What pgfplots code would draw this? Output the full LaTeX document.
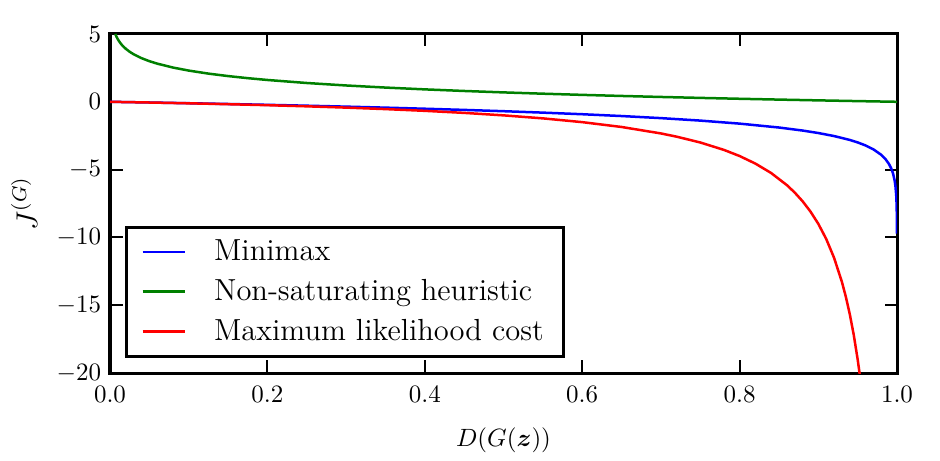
\documentclass[border=0pt]{standalone}
\usepackage{pgfplots}
\pgfplotsset{compat=1.18}
\usepackage{amsmath,amssymb}
\definecolor{mplb}{rgb}{0,0,1}
\definecolor{mplg}{rgb}{0,0.5,0}
\definecolor{mplr}{rgb}{1,0,0}
\begin{document}
\begin{tikzpicture}
\begin{axis}[
  scale only axis,
  width=314.8pt, height=135.6pt,
  xmin=0, xmax=1, ymin=-20, ymax=5,
  xtick={0,0.2,0.4,0.6,0.8,1.0},
  xticklabels={0.0,0.2,0.4,0.6,0.8,1.0},
  ytick={-20,-15,-10,-5,0,5},
  tick align=inside,
  tick pos=both,
  major tick length=5pt,
  tick style={black, line width=0.8pt},
  axis line style={line width=1.2pt},
  xticklabel style={yshift=-1.5pt},
  xlabel={$D(G(\boldsymbol{z}))$},
  ylabel={$J^{(G)}$},
  ylabel style={yshift=1pt, font=\large},
  xlabel style={yshift=-3pt},
  legend style={at={(0.019,0.044)}, anchor=south west, draw=black, line width=1.2pt, font=\fontsize{12.2}{14}\selectfont, inner xsep=6pt, inner ysep=3pt, row sep=2pt, cells={anchor=west},
    /tikz/every odd column/.append style={column sep=9pt}},
  legend image code/.code={\draw[#1, line width=1pt] plot coordinates {(0cm,0cm) (0.6cm,0cm)};},
  legend cell align=left,
  every axis plot/.append style={line width=1pt},
]
\addplot[mplb] coordinates {
(0,0) (0.05,-0.0513) (0.1,-0.1054) (0.15,-0.1625) (0.2,-0.2231) (0.25,-0.2877) (0.3,-0.3567) (0.35,-0.4308) (0.4,-0.5108) (0.45,-0.5978) (0.5,-0.6931) (0.55,-0.7985) (0.6,-0.9163) (0.65,-1.0498) (0.7,-1.2040) (0.75,-1.3863) (0.8,-1.6094) (0.85,-1.8971) (0.88,-2.1203) (0.9,-2.3026) (0.92,-2.5257) (0.94,-2.8134) (0.95,-2.9957) (0.96,-3.2189) (0.97,-3.5066) (0.98,-3.9120) (0.985,-4.1997) (0.99,-4.6052) (0.993,-4.9618) (0.995,-5.2983) (0.997,-5.8091) (0.998,-6.2146) (0.999,-6.9078) (0.9995,-7.6009) (0.9998,-8.5172) (0.9999,-9.2103) (0.99994,-9.7212)
};
\addlegendentry{Minimax}
\addplot[mplg] coordinates {
(0.00674,5.0) (0.008,4.8283) (0.01,4.6052) (0.0125,4.3820) (0.015,4.1997) (0.02,3.9120) (0.025,3.6889) (0.03,3.5066) (0.04,3.2189) (0.05,2.9957) (0.06,2.8134) (0.08,2.5257) (0.1,2.3026) (0.125,2.0794) (0.15,1.8971) (0.175,1.7430) (0.2,1.6094) (0.25,1.3863) (0.3,1.2040) (0.35,1.0498) (0.4,0.9163) (0.45,0.7985) (0.5,0.6931) (0.55,0.5978) (0.6,0.5108) (0.65,0.4308) (0.7,0.3567) (0.75,0.2877) (0.8,0.2231) (0.85,0.1625) (0.9,0.1054) (0.95,0.0513) (1.0,0)
};
\addlegendentry{Non-saturating heuristic}
\addplot[mplr] coordinates {
(0,0) (0.05,-0.0526) (0.1,-0.1111) (0.15,-0.1765) (0.2,-0.25) (0.25,-0.3333) (0.3,-0.4286) (0.35,-0.5385) (0.4,-0.6667) (0.45,-0.8182) (0.5,-1) (0.55,-1.2222) (0.6,-1.5) (0.65,-1.8571) (0.7,-2.3333) (0.72,-2.5714) (0.75,-3) (0.78,-3.5455) (0.8,-4) (0.82,-4.5556) (0.84,-5.25) (0.86,-6.1429) (0.87,-6.6923) (0.88,-7.3333) (0.89,-8.0909) (0.9,-9) (0.91,-10.1111) (0.92,-11.5) (0.93,-13.2857) (0.935,-14.3846) (0.94,-15.6667) (0.945,-17.1818) (0.95,-19) (0.9524,-20.008) (0.955,-21.2222)
};
\addlegendentry{Maximum likelihood cost}
\end{axis}
\pgfresetboundingbox
\path ([shift={(-44pt,-34.8pt)}]current axis.south west) rectangle ([shift={(17.2pt,13.6pt)}]current axis.north east);
\end{tikzpicture}
\end{document}
